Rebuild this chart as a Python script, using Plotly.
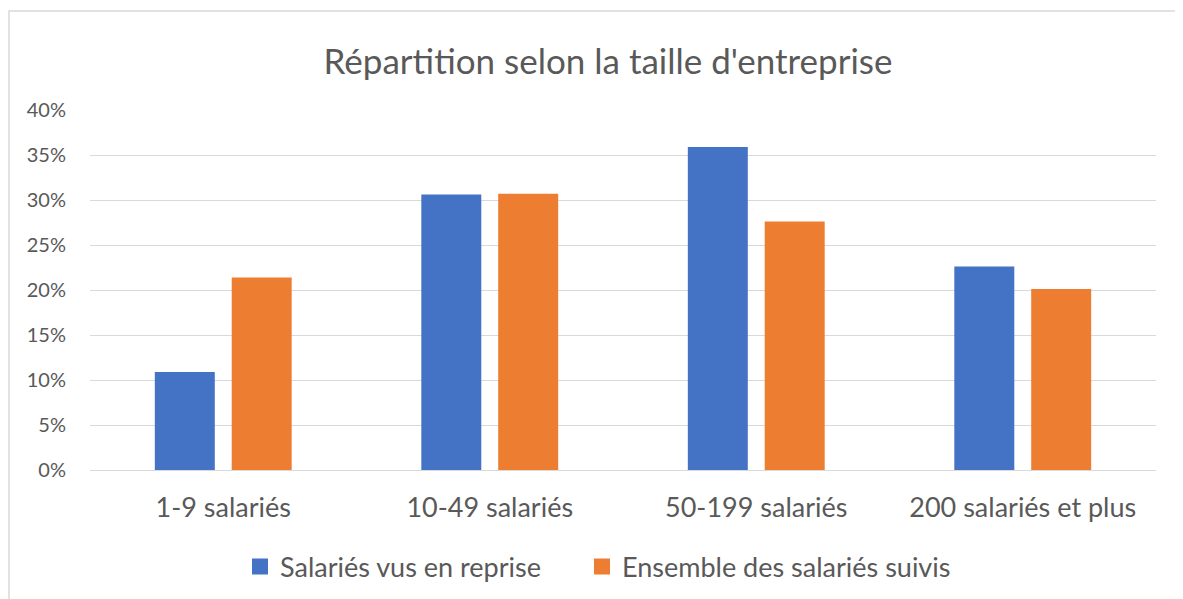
import plotly.graph_objects as go

categories = ["1-9 salariés", "10-49 salariés", "50-199 salariés", "200 salariés et plus"]
series_names = ["Salariés vus en reprise", "Ensemble des salariés suivis"]
vus_en_reprise = [0.109, 0.306, 0.359, 0.226]
ensemble_suivis = [0.214, 0.307, 0.276, 0.201]
y_ticks = [0, 0.05, 0.10, 0.15, 0.20, 0.25, 0.30, 0.35, 0.40]
y_tick_labels = ["0%", "5%", "10%", "15%", "20%", "25%", "30%", "35%", "40%"]

colors = ["#4472C4", "#ED7D31"]
FONT = "Lato"
TEXT = "#595959"

# page body has an 8px margin; compensate so the chart lands where the reference has it
OFF = 8
L, R, T, B = 90 - OFF, 1156 - OFF, 110 - OFF, 470 - OFF
PW, PH = R - L, B - T

fig = go.Figure()
for name, vals, col in zip(series_names, [vus_en_reprise, ensemble_suivis], colors):
    fig.add_trace(go.Bar(x=categories, y=vals, name=name, showlegend=False,
                         marker=dict(color=col, line=dict(width=0))))
# legend-only entries with larger square swatches, one legend each for spacing
legend_ids = ["legend", "legend2"]
for name, col, lg in zip(series_names, colors, legend_ids):
    fig.add_trace(go.Scatter(x=[None], y=[None], name=name, mode="markers", legend=lg,
                             marker=dict(symbol="square", size=16, color=col)))

legend_common = dict(orientation="h", xanchor="left", yanchor="middle",
                     y=(B - (567 - OFF)) / PH, bgcolor="rgba(0,0,0,0)",
                     font=dict(family=FONT, size=27, color=TEXT), itemwidth=30)

fig.update_layout(
    width=1183, height=599,
    margin=dict(l=L, r=1183 - R, t=T, b=599 - B),
    paper_bgcolor="white", plot_bgcolor="white",
    barmode="group", bargap=0.423, bargroupgap=0.22,
    title=dict(text="Répartition selon la taille d'entreprise", x=(608 - OFF) / 1183, xanchor="center",
               y=1 - (62 - OFF) / 599, yanchor="middle",
               font=dict(family=FONT, size=35, color=TEXT)),
    font=dict(family=FONT, color=TEXT),
    legend=dict(legend_common, x=(240 - OFF - L) / PW),
    legend2=dict(legend_common, x=(582 - OFF - L) / PW),
    xaxis=dict(showgrid=False, showline=False, ticks="", tickfont=dict(family=FONT, size=27, color=TEXT),
               ticklabelstandoff=19),
    yaxis=dict(range=[0, 0.4], tickvals=y_ticks, ticktext=y_tick_labels,
               showgrid=True, gridcolor="#D9D9D9", gridwidth=1, zeroline=True, zerolinecolor="#D9D9D9",
               zerolinewidth=1, showline=False, ticks="",
               tickfont=dict(family=FONT, size=20, color=TEXT), ticklabelstandoff=23),
)
fig.add_shape(type="rect", xref="paper", yref="paper",
              x0=(9 - OFF - L) / PW, x1=(1190 - OFF - L) / PW,
              y0=(B - 620) / PH, y1=(B - (11 - OFF)) / PH,
              line=dict(color="#D9D9D9", width=1.5), fillcolor="rgba(0,0,0,0)", layer="below")
fig.write_html("out.html")
